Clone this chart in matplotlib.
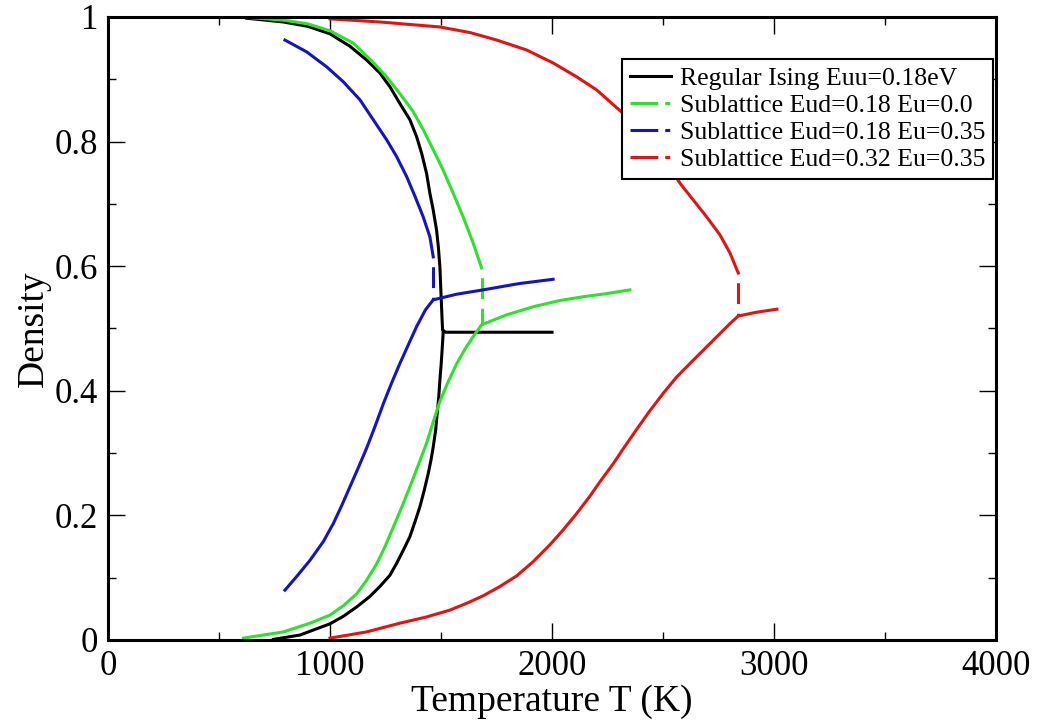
import matplotlib
matplotlib.use("Agg")
import matplotlib.pyplot as plt
from matplotlib.lines import Line2D
from matplotlib.ticker import MultipleLocator

plt.rcParams['font.family'] = ['Liberation Serif', 'DejaVu Serif']
plt.rcParams['lines.scale_dashes'] = False

# Regular Ising, Euu = 0.18 eV
black_hi_T = [625, 790, 900, 1000, 1090, 1165, 1225, 1270, 1315, 1360, 1390, 1413, 1435, 1450,
              1465, 1480, 1488, 1495, 1503, 1507, 1520, 2000]
black_hi_d = [0.998, 0.992, 0.985, 0.973, 0.953, 0.931, 0.910, 0.888, 0.861, 0.835, 0.808, 0.781, 0.749, 0.717,
              0.690, 0.658, 0.631, 0.599, 0.530, 0.498, 0.494, 0.494]
black_lo_T = [745, 865, 1000, 1060, 1120, 1180, 1225, 1270, 1300, 1330, 1360, 1383, 1405, 1425,
              1443, 1455, 1465, 1476, 1483, 1490, 1495, 1501, 1506, 1510]
black_lo_d = [0.001, 0.008, 0.026, 0.038, 0.053, 0.070, 0.086, 0.104, 0.123, 0.144, 0.166, 0.190, 0.214, 0.241,
              0.268, 0.289, 0.310, 0.337, 0.364, 0.391, 0.417, 0.444, 0.471, 0.495]

# Sublattice Eud = 0.18, Eu = 0.0
green_hi_T = [640, 790, 900, 1000, 1105, 1195, 1255, 1315, 1375, 1420, 1465, 1510, 1555, 1600, 1645, 1683]
green_hi_d = [0.999, 0.995, 0.989, 0.978, 0.958, 0.927, 0.904, 0.877, 0.848, 0.819, 0.787, 0.754, 0.717, 0.679, 0.637, 0.597]
green_lo_T = [610, 790, 910, 1000, 1060, 1120, 1165, 1210, 1248, 1285, 1323, 1360, 1398, 1435, 1465,
              1495, 1533, 1570, 1608, 1645, 1683, 1796, 1916, 2036, 2141, 2246, 2351]
green_lo_d = [0.003, 0.013, 0.027, 0.040, 0.055, 0.074, 0.096, 0.122, 0.150, 0.181, 0.213, 0.246, 0.281, 0.316, 0.350,
              0.383, 0.415, 0.443, 0.467, 0.487, 0.506, 0.522, 0.535, 0.545, 0.551, 0.556, 0.562]

# Sublattice Eud = 0.18, Eu = 0.35
blue_hi_T = [797, 895, 985, 1060, 1135, 1195, 1255, 1300, 1345, 1383, 1420, 1450, 1465]
blue_hi_d = [0.963, 0.944, 0.920, 0.896, 0.867, 0.835, 0.803, 0.776, 0.744, 0.712, 0.679, 0.647, 0.615]
blue_lo_T = [797, 850, 910, 970, 1015, 1053, 1090, 1128, 1165, 1203, 1240, 1278, 1315, 1353, 1390,
             1430, 1465, 1570, 1690, 1850, 2005]
blue_lo_d = [0.080, 0.102, 0.128, 0.158, 0.187, 0.216, 0.246, 0.277, 0.308, 0.343, 0.379, 0.413, 0.444, 0.474, 0.503,
             0.530, 0.546, 0.555, 0.562, 0.572, 0.579]

# Sublattice Eud = 0.32, Eu = 0.35
red_hi_T = [1000, 1225, 1495, 1631, 1751, 1886, 2006, 2111, 2201, 2321, 2400, 2490, 2577, 2637,
            2697, 2757, 2802, 2839]
red_hi_d = [0.997, 0.992, 0.984, 0.975, 0.963, 0.947, 0.926, 0.904, 0.883, 0.845, 0.818, 0.780, 0.733, 0.706,
            0.679, 0.650, 0.621, 0.589]
red_lo_T = [1000, 1165, 1315, 1435, 1540, 1616, 1690, 1766, 1841, 1916, 1991, 2051, 2111, 2171, 2216,
            2276, 2321, 2381, 2441, 2501, 2561, 2622, 2667, 2712, 2757, 2802, 2839, 2920, 3013]
red_lo_d = [0.003, 0.013, 0.027, 0.037, 0.048, 0.059, 0.071, 0.086, 0.103, 0.126, 0.153, 0.177, 0.203, 0.231, 0.254,
            0.283, 0.307, 0.338, 0.368, 0.396, 0.422, 0.444, 0.460, 0.476, 0.492, 0.508, 0.520, 0.526, 0.531]

labels = ["Regular Ising Euu=0.18eV",
          "Sublattice Eud=0.18 Eu=0.0",
          "Sublattice Eud=0.18 Eu=0.35",
          "Sublattice Eud=0.32 Eu=0.35"]

BLACK = "#000000"
GREEN = "#2fe02f"
BLUE = "#1414c0"
RED = "#e01414"
LW = 2.2

fig = plt.figure(figsize=(10.46, 7.24), dpi=100)
ax = fig.add_axes([108 / 1046, 84 / 724, 888 / 1046, 623 / 724])

ax.plot(black_hi_T, black_hi_d, color=BLACK, lw=LW)
ax.plot(black_lo_T, black_lo_d, color=BLACK, lw=LW)

# each sublattice curve: upper branch, lower branch, dashed jump between them
jump_style = (15, (15, 7))
for (hT, hd, lT, ld, c) in [
    (green_hi_T, green_hi_d, green_lo_T, green_lo_d, GREEN),
    (blue_hi_T, blue_hi_d, blue_lo_T, blue_lo_d, BLUE),
    (red_hi_T, red_hi_d, red_lo_T, red_lo_d, RED),
]:
    ax.plot(hT, hd, color=c, lw=LW)
    ax.plot(lT, ld, color=c, lw=LW)
    jT = hT[-1]
    jlo = ld[lT.index(jT)] if jT in lT else ld[-1]
    ax.plot([jT, jT], [hd[-1], jlo], color=c, lw=LW, linestyle=jump_style)

ax.set_xlim(0, 4000)
ax.set_ylim(0, 1)
ax.xaxis.set_major_locator(MultipleLocator(1000))
ax.xaxis.set_minor_locator(MultipleLocator(500))
ax.yaxis.set_major_locator(MultipleLocator(0.2))
ax.yaxis.set_minor_locator(MultipleLocator(0.1))
ax.set_yticks([0, 0.2, 0.4, 0.6, 0.8, 1.0])
ax.set_yticklabels(["0", "0.2", "0.4", "0.6", "0.8", "1"])

ax.tick_params(which='both', direction='in', top=True, right=True, width=1.0,
               labelsize=25)
ax.tick_params(which='major', length=12, pad=7)
ax.tick_params(which='minor', length=6)
for s in ax.spines.values():
    s.set_linewidth(2.2)

ax.set_xlabel("Temperature T (K)", fontsize=27, labelpad=1)
ax.set_ylabel("Density", fontsize=27, labelpad=3)

dash = (0, (20, 5, 3.6, 20))
handles = [
    Line2D([], [], color=BLACK, lw=LW),
    Line2D([], [], color=GREEN, lw=LW, linestyle=dash),
    Line2D([], [], color=BLUE, lw=LW, linestyle=dash),
    Line2D([], [], color=RED, lw=LW, linestyle=dash),
]
leg = ax.legend(handles, labels, loc='upper right',
                bbox_to_anchor=(885 / 888, 581 / 623), borderaxespad=0,
                fontsize=18.5, handlelength=1.6, handletextpad=0.35,
                labelspacing=0.16, borderpad=0.3, fancybox=False,
                framealpha=1, edgecolor='black')
leg.get_frame().set_linewidth(1.5)
leg.set_zorder(5)

fig.savefig("out.png", dpi=100)
